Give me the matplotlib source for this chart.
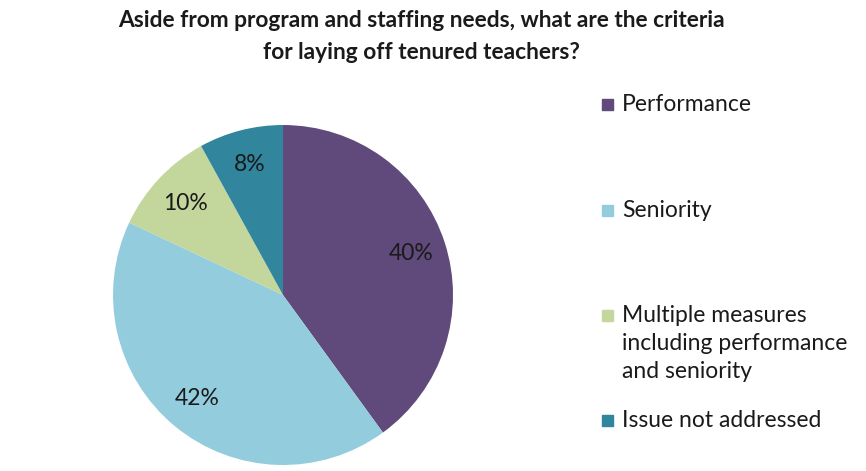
import matplotlib.pyplot as plt
from matplotlib.patches import Rectangle

categories = ["Performance", "Seniority",
              "Multiple measures\nincluding performance\nand seniority",
              "Issue not addressed"]
shares = [40, 42, 10, 8]
colors = ["#604A7B", "#93CDDD", "#C3D69B", "#31859C"]

plt.rcParams['font.family'] = ['Lato', 'DejaVu Sans']

fig = plt.figure(figsize=(8.66, 4.71), dpi=100)
ax = fig.add_axes([0.1305, 0.0127, 0.3926, 0.7219])
wedges, texts, autotexts = ax.pie(
    shares, colors=colors, startangle=90, counterclock=False,
    autopct='%d%%', pctdistance=0.79,
    wedgeprops=dict(linewidth=0),
    textprops=dict(fontsize=16.5, color='#1a1a1a'))
ax.set_xlim(-1, 1)
ax.set_ylim(-1, 1)
ax.set_aspect('equal')

fig.text(0.487, 0.957, "Aside from program and staffing needs, what are the criteria",
         ha='center', va='center', fontsize=16.4, fontweight='bold', color='#1a1a1a')
fig.text(0.487, 0.889, "for laying off tenured teachers?",
         ha='center', va='center', fontsize=16.4, fontweight='bold', color='#1a1a1a')

# legend entries placed by hand to mimic the uneven spacing
legend_y = [104, 210, 315, 420]
for cat, col, y in zip(categories, colors, legend_y):
    yf = 1 - y / 471
    fig.patches.append(Rectangle((602 / 866, yf - 6 / 471), 11 / 866, 11 / 471,
                                 transform=fig.transFigure, color=col))
    fig.text(622 / 866, yf + 10 / 471, cat, ha='left', va='top',
             fontsize=16.5, color='#1a1a1a', linespacing=1.42)

fig.savefig("out.png")
